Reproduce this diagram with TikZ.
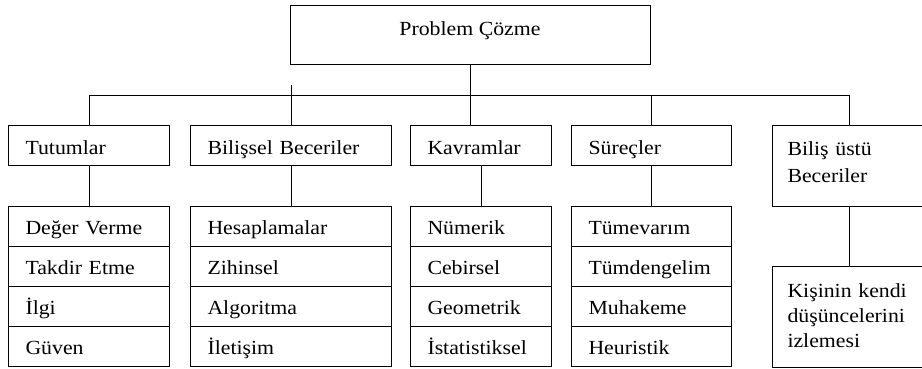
\documentclass[tikz,border=0pt]{standalone}
\usepackage{fontspec}
\setmainfont{Liberation Serif}[FakeStretch=1.09]
\tikzset{
  kutu/.style={draw, line width=1pt, anchor=north west, inner xsep=17pt, inner ysep=0pt, align=left},
  baslik/.style={kutu, text height=29pt, text depth=11pt},
  satir/.style={kutu, text height=28pt, text depth=12pt}
}

\begin{document}
\begin{tikzpicture}[x=1pt,y=-1pt,line width=1pt,font=\fontsize{20}{27}\selectfont]
            \useasboundingbox (0,0) rectangle (922,368);
            \node[draw, line width=1pt, anchor=north, minimum width=360pt, inner sep=0pt, text height=30pt, text depth=29pt] (problem) at (470,5) {Problem Çözme};
            \coordinate (bus) at (0,95);
            \node[baslik, text width=127pt] (tut) at (8,125) {Tutumlar};
            \node[baslik, text width=167pt] (bil) at (190,125) {Bilişsel Beceriler};
            \node[baslik, text width=107pt] (kav) at (410,125) {Kavramlar};
            \node[baslik, text width=126pt] (sur) at (571,125) {Süreçler};
            \node[kutu, text width=124pt, inner xsep=15pt, text height=30pt, text depth=51pt] (ust) at (772,125) {Biliş üstü\\Beceriler};
            \foreach \i/\t in {0/Değer Verme,1/Takdir Etme,2/İlgi,3/Güven}
                \node[satir, text width=127pt] (tut\i) at (8,206+40*\i) {\t};
            \foreach \i/\t in {0/Hesaplamalar,1/Zihinsel,2/Algoritma,3/İletişim}
                \node[satir, text width=167pt] (bil\i) at (190,206+40*\i) {\t};
            \foreach \i/\t in {0/Nümerik,1/Cebirsel,2/Geometrik,3/İstatistiksel}
                \node[satir, text width=107pt] (kav\i) at (410,206+40*\i) {\t};
            \foreach \i/\t in {0/Tümevarım,1/Tümdengelim,2/Muhakeme,3/Heuristik}
                \node[satir, text width=126pt] (sur\i) at (571,206+40*\i) {\t};
            \node[kutu, text width=124pt, inner xsep=15pt, text height=31pt, text depth=70pt, font=\fontsize{20}{25}\selectfont] (kisi) at (772,266) {Kişinin kendi\\düşüncelerini\\izlemesi};
            \draw (problem.south) -- (problem.south |- kav.north);
            \draw (tut.north) -- (tut.north |- bus) -- (ust.north |- bus) -- (ust.north);
            \draw (bil.north) -- ([yshift=10pt]bil.north |- bus);
            \draw (sur.north) -- (sur.north |- bus);
            \draw (tut.south) -- (tut0.north);
            \draw (bil.south) -- (bil0.north);
            \draw (kav.south) -- (kav0.north);
            \draw (sur.south) -- (sur0.north);
            \draw (ust.south) -- (kisi.north);
        \end{tikzpicture}
\end{document}
